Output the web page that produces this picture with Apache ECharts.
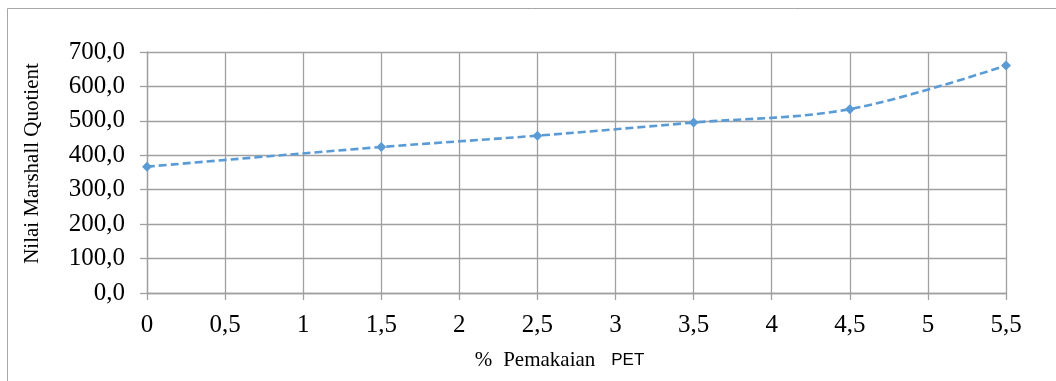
<!DOCTYPE html>
<html>
<head>
<meta charset="utf-8">
<script src="https://cdn.jsdelivr.net/npm/echarts@6/dist/echarts.min.js"></script>
<style>
  html, body { margin: 0; padding: 0; background: #fff; }
  #chart { width: 1056px; height: 381px; }
</style>
</head>
<body>
<div id="chart"></div>
<script>
// PET content (%) and the Marshall Quotient measured at each content
const petContent = [0, 1.5, 2.5, 3.5, 4.5, 5.5];
const marshallQuotient = [367, 424, 457, 495, 534, 661];

const yTickStep = 100;
const yMax = 700;
const xTickStep = 0.5;
const xMax = 5.5;

const gridColor = '#a0a0a0';
const lineColor = '#5b9bd5';
const comma = v => String(v).replace('.', ',');

const chart = echarts.init(document.getElementById('chart'), null, { renderer: 'canvas' });

chart.setOption({
  backgroundColor: '#ffffff',
  animation: false,
  graphic: [{
    type: 'rect',
    shape: { x: 7.5, y: 8.5, width: 1200, height: 500 },
    style: { fill: 'none', stroke: '#a6a6a6', lineWidth: 1 },
    silent: true
  }],
  grid: { left: 147, right: 50, top: 52, bottom: 88 },
  xAxis: {
    type: 'value',
    min: 0,
    max: xMax,
    interval: xTickStep,
    name: '{a|%}{g|}{a|Pemakaian}{h|}{b|PET}',
    nameLocation: 'middle',
    nameGap: 55,
    nameTextStyle: {
      padding: [0, 34, 0, 0],
      rich: {
        a: { fontFamily: 'Liberation Serif', fontSize: 21, lineHeight: 24, color: '#000' },
        g: { width: 11 },
        h: { width: 16 },
        b: { fontFamily: 'Liberation Sans', fontSize: 17, lineHeight: 24, color: '#000' }
      }
    },
    axisLine: { show: true, lineStyle: { color: gridColor, width: 1.3 } },
    axisTick: { show: true, length: 7, lineStyle: { color: gridColor, width: 1.3 } },
    splitLine: { show: true, lineStyle: { color: gridColor, width: 1.3 } },
    axisLabel: {
      margin: 20,
      fontFamily: 'Liberation Serif',
      fontSize: 25,
      color: '#000',
      formatter: v => comma(v)
    }
  },
  yAxis: {
    type: 'value',
    min: 0,
    max: yMax,
    interval: yTickStep,
    name: 'Nilai Marshall Quotient',
    nameLocation: 'middle',
    nameRotate: 90,
    nameGap: 104,
    nameTextStyle: {
      fontFamily: 'Liberation Serif',
      fontSize: 21,
      color: '#000',
      padding: [0, 0, 0, 18]
    },
    axisLine: { show: true, lineStyle: { color: gridColor, width: 1.3 } },
    axisTick: { show: true, length: 7, lineStyle: { color: gridColor, width: 1.3 } },
    splitLine: { show: true, lineStyle: { color: gridColor, width: 1.3 } },
    axisLabel: {
      margin: 22,
      fontFamily: 'Liberation Serif',
      fontSize: 25,
      color: '#000',
      formatter: v => comma(v.toFixed(1))
    }
  },
  series: [{
    type: 'line',
    data: petContent.map((x, i) => [x, marshallQuotient[i]]),
    smooth: 0.35,
    symbol: 'diamond',
    symbolSize: 10,
    itemStyle: { color: lineColor },
    lineStyle: { color: lineColor, width: 2.6, type: [8, 4] }
  }]
});
</script>
</body>
</html>
